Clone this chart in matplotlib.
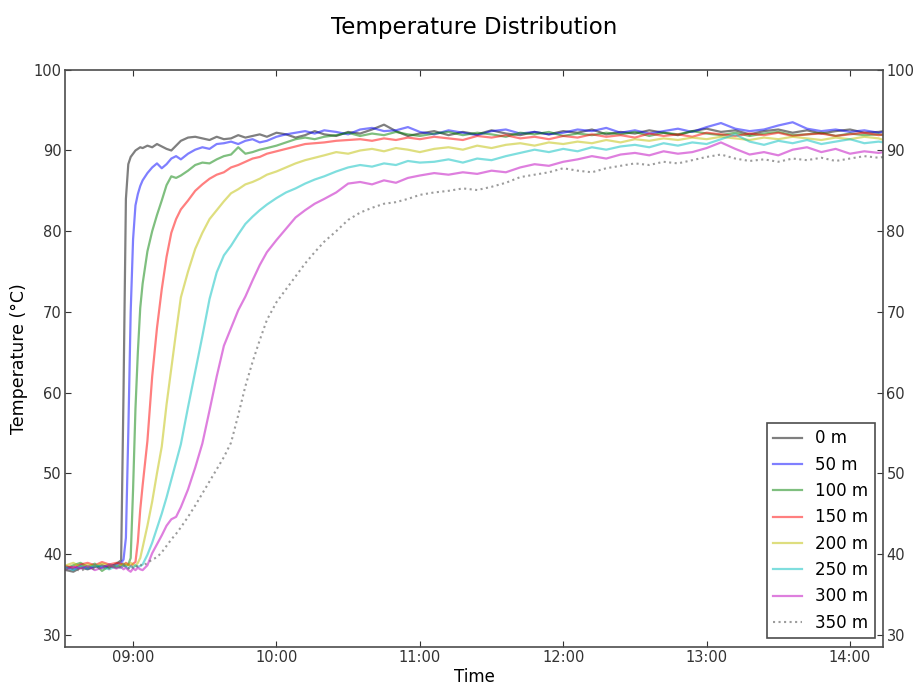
"""Temperature distribution along the line, one trace per sensor position."""

from datetime import datetime, timedelta

import matplotlib

matplotlib.use("Agg")
import matplotlib.dates as mdates
from matplotlib import pyplot as plt

# Sample times, minutes after 08:00 (shared by every sensor)
TIME_MIN = [
    32, 35, 38, 41, 44, 47, 50, 53,
    55, 56, 57, 58, 59, 60, 61, 62, 63, 64,
    66, 68, 70, 72, 74, 76, 78, 80,
    83, 86, 89, 92, 95, 98, 101, 104, 107, 110, 113, 116,
    120, 124, 128, 132, 136, 140,
    145, 150, 155, 160, 165, 170, 175, 180,
    186, 192, 198, 204, 210, 216, 222, 228, 234, 240, 246, 252, 258, 264, 270, 276,
    282, 288, 294, 300, 306, 312, 318, 324, 330, 336, 342, 348, 354, 360, 366, 372,
    374,
]

LABELS = ["0 m", "50 m", "100 m", "150 m", "200 m", "250 m", "300 m", "350 m"]

temp_0m = [
    38.0, 37.8, 38.3, 38.1, 38.4, 38.6, 38.3, 38.8,
    39.2, 60.0, 84.0, 88.3, 89.2, 89.6, 90.0, 90.2, 90.4, 90.3,
    90.6, 90.4, 90.8, 90.5, 90.2, 90.0, 90.6, 91.2,
    91.6, 91.7, 91.5, 91.3, 91.7, 91.4, 91.5, 91.9, 91.6, 91.8, 92.0, 91.7,
    92.2, 92.0, 91.6, 91.9, 92.4, 92.0,
    91.8, 92.3, 92.1, 92.6, 93.2, 92.4, 91.8, 92.1,
    92.4, 91.9, 92.3, 92.0, 92.5, 92.1, 91.9, 92.3, 92.0, 92.4, 92.2, 92.6, 92.0, 92.3, 92.1, 92.5,
    92.2, 91.9, 92.4, 92.7, 92.3, 92.5, 92.0, 92.4, 92.6, 92.2, 92.5, 92.1, 92.4, 92.6, 92.2, 92.3,
    92.4,
]
temp_50m = [
    38.4, 38.1, 38.6, 38.2, 38.5, 38.3, 38.7, 38.5,
    38.9, 39.3, 42.0, 55.0, 70.0, 79.0, 83.2, 84.6, 85.6, 86.3,
    87.2, 87.9, 88.4, 87.8, 88.3, 89.0, 89.3, 88.9,
    89.6, 90.1, 90.4, 90.2, 90.8, 90.9, 91.1, 90.8, 91.2, 91.4, 91.0, 91.2,
    91.7, 92.0, 92.2, 92.4, 92.1, 92.5,
    92.3, 92.0, 92.6, 92.8, 92.4, 92.5, 92.9, 92.3,
    92.0, 92.5, 92.2, 91.9, 92.4, 92.6, 92.1, 92.3, 92.0, 92.2, 92.6, 92.4, 92.8, 92.2, 92.5, 92.1,
    92.4, 92.7, 92.3, 92.9, 93.4, 92.7, 92.4, 92.6, 93.1, 93.5, 92.7, 92.4, 92.6, 92.3, 92.5, 92.2,
    92.3,
]
temp_100m = [
    38.2, 38.6, 38.9, 38.4, 38.8, 37.9, 38.5, 38.3,
    38.6, 38.8, 38.5, 38.7, 39.5, 48.0, 58.0, 65.0, 70.5, 73.5,
    77.5, 80.0, 82.0, 83.8, 85.7, 86.8, 86.6, 86.9,
    87.5, 88.2, 88.5, 88.4, 88.9, 89.3, 89.5, 90.4, 89.6, 89.8, 90.1, 90.3,
    90.6, 91.0, 91.4, 91.6, 91.4, 91.7,
    91.9, 92.2, 91.8, 92.1, 91.9, 92.3, 92.0, 91.8,
    92.1, 92.3, 91.9, 92.2, 92.0, 91.7, 92.2, 92.0, 92.3, 91.8, 92.1, 91.9, 92.2, 92.0, 92.3, 91.8,
    92.2, 92.0, 92.4, 92.1, 91.9, 92.2, 91.8, 92.1, 92.3, 91.9, 92.0, 92.2, 91.8, 92.1, 91.9, 92.0,
    91.9,
]
temp_150m = [
    38.5, 38.3, 38.7, 38.9, 38.6, 39.0, 38.7, 38.9,
    38.8, 38.6, 38.9, 38.7, 38.5, 38.8, 39.0, 41.5, 45.5, 48.5,
    54.0, 62.0, 68.0, 72.8, 76.8, 79.8, 81.5, 82.7,
    83.8, 85.0, 85.8, 86.5, 87.0, 87.3, 87.9, 88.2, 88.6, 89.0, 89.2, 89.6,
    89.9, 90.2, 90.5, 90.8, 90.9, 91.0,
    91.2, 91.3, 91.4, 91.2, 91.5, 91.3, 91.6, 91.4,
    91.7, 91.5, 91.3, 91.8, 91.6, 91.9, 91.5, 91.7, 91.4, 91.8, 91.6, 92.0, 91.7, 91.9, 91.6, 92.1,
    91.8, 92.0, 91.7, 92.2, 92.0, 91.8, 92.1, 91.9, 92.2, 91.8, 92.0, 92.1, 91.8, 92.0, 92.2, 91.9,
    92.0,
]
temp_200m = [
    38.6, 38.9, 38.4, 38.7, 38.5, 38.8, 38.6, 38.4,
    38.7, 38.5, 38.8, 38.6, 38.9, 38.7, 38.5, 38.9, 39.5, 40.8,
    43.5, 46.5, 50.0, 53.3, 58.5, 63.0, 67.5, 71.8,
    75.0, 77.8, 79.8, 81.5, 82.6, 83.7, 84.7, 85.2, 85.8, 86.1, 86.5, 87.0,
    87.4, 87.9, 88.4, 88.8, 89.1, 89.4,
    89.8, 89.6, 90.0, 90.2, 89.9, 90.3, 90.1, 89.8,
    90.2, 90.4, 90.1, 90.6, 90.3, 90.7, 90.9, 90.6, 91.0, 90.8, 91.1, 90.9, 91.3, 91.0, 91.4, 91.2,
    91.5, 91.3, 91.6, 91.4, 91.7, 91.5, 91.3, 91.6, 91.4, 91.7, 91.5, 91.3, 91.6, 91.4, 91.7, 91.5,
    91.3,
]
temp_250m = [
    38.3, 38.0, 38.5, 38.2, 38.6, 38.4, 38.1, 38.5,
    38.3, 38.6, 38.4, 38.2, 38.5, 38.3, 38.6, 38.4, 38.5, 38.7,
    39.9, 41.4, 43.2, 45.0, 47.0, 49.2, 51.4, 53.6,
    58.2, 62.6, 67.0, 71.6, 74.9, 77.0, 78.2, 79.6, 80.9, 81.8, 82.6, 83.3,
    84.1, 84.8, 85.3, 85.9, 86.4, 86.8,
    87.4, 87.9, 88.2, 88.0, 88.4, 88.2, 88.7, 88.5,
    88.6, 88.9, 88.5, 89.0, 88.8, 89.3, 89.7, 90.1, 89.8, 90.2, 89.9, 90.4, 90.1, 90.5, 90.7, 90.4,
    90.9, 90.6, 91.0, 90.8, 91.4, 92.0, 91.1, 90.7, 91.2, 90.9, 91.3, 90.8, 91.1, 91.4, 90.9, 91.1,
    91.0,
]
temp_300m = [
    38.1, 38.4, 38.2, 38.5, 38.0, 38.3, 38.6, 38.2,
    38.4, 38.1, 38.3, 38.0, 37.8, 38.2, 38.0, 38.3, 38.1, 38.0,
    38.6, 40.1, 41.2, 42.3, 43.5, 44.3, 44.6, 45.8,
    48.0, 50.7, 53.7, 57.8, 62.0, 65.8, 68.0, 70.2, 71.9, 73.9, 75.8, 77.4,
    78.9, 80.3, 81.7, 82.6, 83.4, 84.0,
    84.8, 85.9, 86.1, 85.8, 86.3, 86.0, 86.6, 86.9,
    87.2, 87.0, 87.3, 87.1, 87.5, 87.3, 87.9, 88.3, 88.1, 88.6, 88.9, 89.3, 89.0, 89.5, 89.7, 89.4,
    89.9, 89.6, 89.8, 90.3, 91.0, 90.2, 89.5, 89.8, 89.4, 90.1, 90.4, 89.8, 90.2, 89.6, 89.9, 89.7,
    89.8,
]
temp_350m = [
    38.0, 38.2, 37.9, 38.3, 38.1, 38.4, 38.2, 38.5,
    38.3, 38.6, 38.4, 38.2, 38.5, 38.3, 38.6, 38.4, 38.7, 38.5,
    38.9, 39.3, 39.6, 40.2, 41.0, 41.8, 42.5, 43.3,
    44.6, 46.0, 47.5, 49.0, 50.5, 52.0, 53.8, 57.2, 60.8, 63.8, 66.5, 69.0,
    71.2, 72.8, 74.4, 76.0, 77.4, 78.7,
    80.0, 81.4, 82.3, 82.9, 83.4, 83.6, 84.0, 84.5,
    84.8, 85.0, 85.3, 85.1, 85.5, 86.0, 86.7, 87.0, 87.3, 87.8, 87.5, 87.3, 87.8, 88.1, 88.4, 88.2,
    88.6, 88.4, 88.8, 89.2, 89.5, 89.0, 88.7, 88.9, 88.6, 89.0, 88.8, 89.1, 88.7, 89.0, 89.3, 89.1,
    89.2,
]

SERIES = [temp_0m, temp_50m, temp_100m, temp_150m, temp_200m, temp_250m, temp_300m, temp_350m]
COLORS = ["k", "b", "g", "r", "y", "c", "m", "0.45"]


def plot_temperature(save_path: str = "out.png") -> None:
    for name, values in zip(LABELS, SERIES, strict=True):
        if len(values) != len(TIME_MIN):
            raise ValueError(f"{name}: {len(values)} values for {len(TIME_MIN)} times")

    base = datetime(2015, 1, 1, 8, 0)
    times = [base + timedelta(minutes=m) for m in TIME_MIN]

    fig = plt.figure(figsize=(9.15, 6.91), dpi=100)
    ax = fig.add_axes([0.071, 0.064, 0.894, 0.835])

    for label, values, color in zip(LABELS, SERIES, COLORS, strict=True):
        if label == "350 m":
            ax.plot(times, values, color=color, ls=":", lw=1.5, alpha=0.7, label=label)
        else:
            ax.plot(times, values, color=color, lw=1.6, alpha=0.5, label=label)

    ax.set_xlim(base + timedelta(minutes=31.5), base + timedelta(minutes=373.8))
    ax.set_ylim(28.5, 100)
    ax.set_yticks(range(30, 101, 10))
    ax.xaxis.set_major_locator(mdates.HourLocator())
    ax.xaxis.set_major_formatter(mdates.DateFormatter("%H:%M"))

    ax.tick_params(direction="in", length=4, pad=2.5, top=True, right=True,
                   labelright=True, labelsize=10.5, colors="0.2")
    for spine in ax.spines.values():
        spine.set_color("0.3")
        spine.set_linewidth(1.2)

    ax.set_title("Temperature Distribution", fontsize=16.5, pad=26)
    ax.set_xlabel("Time", fontsize=12, labelpad=2)
    ax.set_ylabel("Temperature (°C)", fontsize=12.5)

    leg = ax.legend(loc="lower right", fontsize=12, fancybox=False, framealpha=1,
                    handlelength=1.7, labelspacing=0.5, borderaxespad=0.5)
    leg.get_frame().set_edgecolor("0.3")
    leg.get_frame().set_linewidth(1.2)

    fig.savefig(save_path, dpi=100)
    plt.close(fig)


if __name__ == "__main__":
    plot_temperature()
